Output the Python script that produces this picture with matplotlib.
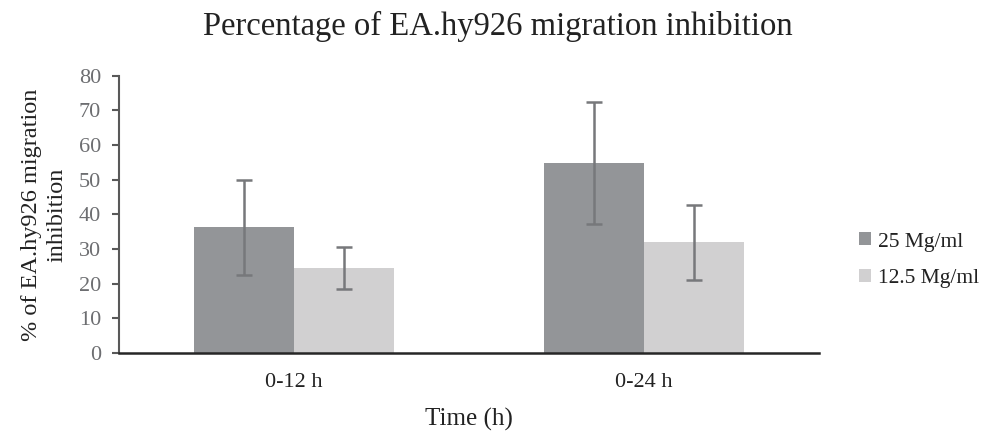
import matplotlib.pyplot as plt
import numpy as np

plt.rcParams['font.family'] = ['Liberation Serif', 'DejaVu Serif']

categories = ['0-12 h', '0-24 h']
series_names = ['25 Mg/ml', '12.5 Mg/ml']
high_dose = [36.3, 54.8]
high_err = [13.7, 17.7]
low_dose = [24.6, 32.0]
low_err = [6.1, 10.8]

colors = ['#939598', '#d1d0d1']
err_color = '#77787b'

fig = plt.figure(figsize=(9.95, 4.37), dpi=100)
ax = fig.add_axes([0.1196, 0.192, 0.7034, 0.6348])

x = np.arange(len(categories))
w = 0.286
ax.bar(x - w / 2, high_dose, w, color=colors[0], label=series_names[0],
       yerr=high_err, error_kw=dict(ecolor=err_color, elinewidth=1.8, capsize=6, capthick=1.8))
ax.bar(x + w / 2, low_dose, w, color=colors[1], label=series_names[1],
       yerr=low_err, error_kw=dict(ecolor=err_color, elinewidth=1.8, capsize=6, capthick=1.8))

ax.set_xlim(-0.5, 1.5)
ax.set_ylim(0, 80)
ax.set_yticks(range(0, 81, 10))
ax.set_xticks(x)
ax.set_xticklabels(categories)

for s in ['top', 'right']:
    ax.spines[s].set_visible(False)
ax.spines['left'].set_color('#595959')
ax.spines['left'].set_linewidth(1.5)
ax.spines['bottom'].set_color('#262626')
ax.spines['bottom'].set_linewidth(1.8)
ax.tick_params(axis='y', colors='#595959', labelsize=16, length=5, width=1.5,
               labelcolor='#6d6e71', pad=8)
ax.tick_params(axis='x', length=0, labelsize=16, pad=14, labelcolor='#222222')

ax.set_xlabel('Time (h)', fontsize=18, color='#222222', labelpad=12)
ax.set_ylabel('% of EA.hy926 migration\ninhibition', fontsize=17.5, color='#222222',
              labelpad=8, linespacing=1.3)
fig.suptitle('Percentage of EA.hy926 migration inhibition', fontsize=23.5,
             color='#222222', y=0.975)

ax.legend(loc='center left', bbox_to_anchor=(1.03, 0.335), frameon=False,
          fontsize=15.5, handlelength=0.55, handleheight=0.55, handletextpad=0.3,
          labelspacing=0.8, labelcolor='#222222')

fig.savefig('out.png', dpi=100)
